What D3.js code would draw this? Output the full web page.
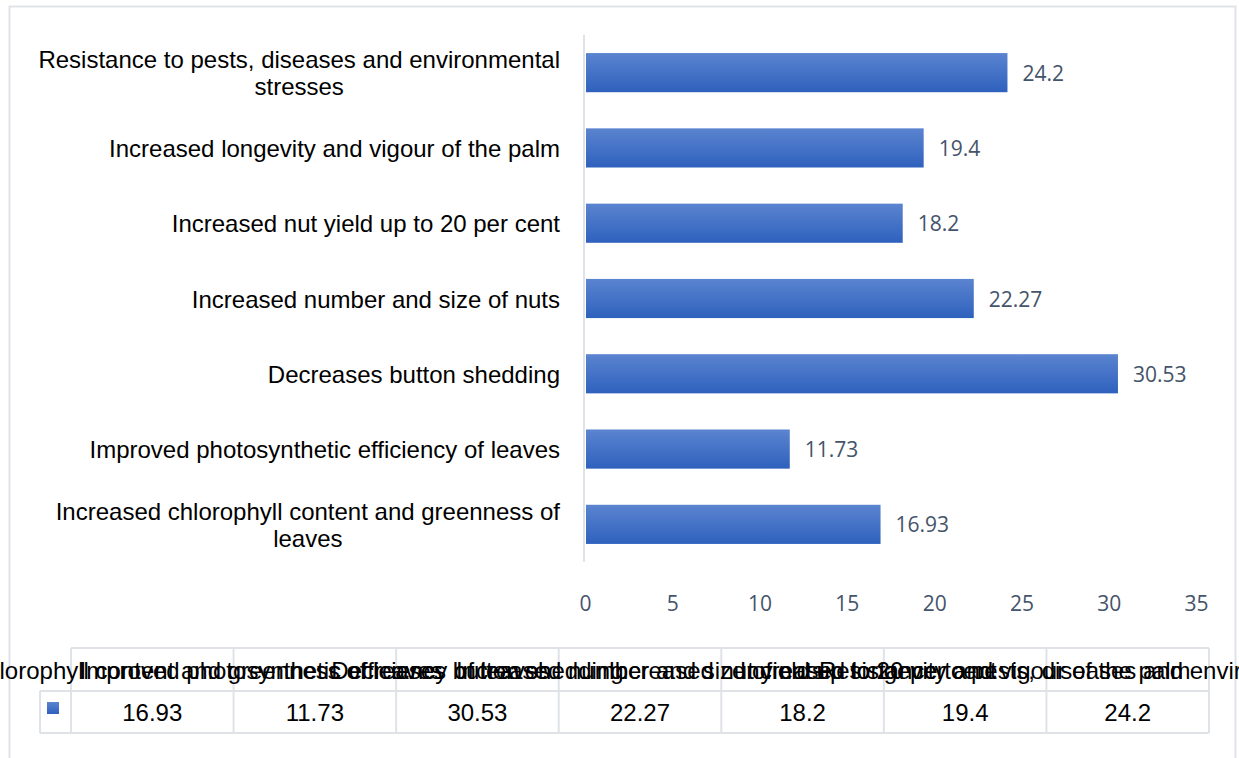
<!DOCTYPE html>
<meta charset="utf-8">
<script src="https://d3js.org/d3.v7.min.js"></script>
<style>
  body { margin: 0; background: #fff; }
</style>
<div id="my_dataviz"></div>
<script>

// data, in table order (bottom bar first)
var categories = [
  "Increased chlorophyll content and greenness of leaves",
  "Improved photosynthetic efficiency of leaves",
  "Decreases button shedding",
  "Increased number and size of nuts",
  "Increased nut yield up to 20 per cent",
  "Increased longevity and vigour of the palm",
  "Resistance to pests, diseases and environmental stresses"
];
var values = [16.93, 11.73, 30.53, 22.27, 18.2, 19.4, 24.2];
var valueLabels = ["16.93", "11.73", "30.53", "22.27", "18.2", "19.4", "24.2"];
var xTicks = [0, 5, 10, 15, 20, 25, 30, 35];

// wrapped label lines for the axis (as in the picture)
var labelLines = {
  "Increased chlorophyll content and greenness of leaves": ["Increased chlorophyll content and greenness of", "leaves"],
  "Resistance to pests, diseases and environmental stresses": ["Resistance to pests, diseases and environmental", "stresses"]
};

var W = 1239, H = 758;
var svg = d3.select("#my_dataviz")
  .append("svg")
    .attr("width", W)
    .attr("height", H);

// chart frame
svg.append("rect")
  .attr("x", 9.5).attr("y", 6.5)
  .attr("width", 1226).attr("height", 800)
  .attr("fill", "none")
  .attr("stroke", "#dfe3e8")
  .attr("stroke-width", 2);

// gradient for bars
var grad = svg.append("defs").append("linearGradient")
  .attr("id", "barGrad")
  .attr("x1", 0).attr("y1", 0).attr("x2", 0).attr("y2", 1);
grad.append("stop").attr("offset", "0%").attr("stop-color", "#5b84d0");
grad.append("stop").attr("offset", "100%").attr("stop-color", "#2e61bd");

// scales
var x = d3.scaleLinear()
  .domain([0, 35])
  .range([585, 1196]);

var y = d3.scaleBand()
  .domain(categories.slice().reverse())
  .range([35, 562])
  .paddingInner(0.48)
  .paddingOuter(0.24);

// vertical axis line
svg.append("line")
  .attr("x1", 584).attr("x2", 584)
  .attr("y1", 35).attr("y2", 562)
  .attr("stroke", "#dfe3e8")
  .attr("stroke-width", 2);

// bars
svg.append("g")
  .selectAll("rect")
  .data(categories)
  .enter()
  .append("rect")
    .attr("x", x(0) + 1)
    .attr("y", function (d) { return y(d); })
    .attr("width", function (d, i) { return x(values[i]) - x(0) - 1; })
    .attr("height", y.bandwidth())
    .attr("fill", "url(#barGrad)");

// value labels
svg.append("g")
  .selectAll("text")
  .data(categories)
  .enter()
  .append("text")
    .attr("x", function (d, i) { return x(values[i]) + 15; })
    .attr("y", function (d) { return y(d) + y.bandwidth() / 2 + 8; })
    .style("font-family", "'Open Sans', sans-serif")
    .style("font-size", "21px")
    .style("fill", "#44546a")
    .text(function (d, i) { return valueLabels[i]; });

// x axis tick labels
var xAxis = svg.append("g")
  .attr("transform", "translate(0,596)")
  .call(d3.axisBottom(x).tickValues(xTicks).tickSize(0).tickPadding(0));
xAxis.select(".domain").remove();
xAxis.selectAll("text")
  .attr("dy", "0.71em")
  .style("font-family", "'Open Sans', sans-serif")
  .style("font-size", "21px")
  .style("fill", "#44546a");

// category labels (right aligned block, centred lines)
var labelRight = 560;
var lab = svg.append("g")
  .selectAll("g")
  .data(categories)
  .enter()
  .append("g");
lab.each(function (d) {
  var g = d3.select(this);
  var lines = labelLines[d] || [d];
  var cy = y(d) + y.bandwidth() / 2;
  var lh = 27;
  var t = g.selectAll("text")
    .data(lines)
    .enter()
    .append("text")
      .attr("y", function (l, k) { return cy + (k - (lines.length - 1) / 2) * lh + 9; })
      .style("font-family", "'Liberation Sans', Arial, sans-serif")
      .style("font-size", "24px")
      .style("fill", "#000")
      .attr("text-anchor", "middle")
      .text(function (l) { return l; });
  var maxW = 0;
  t.each(function () { maxW = Math.max(maxW, this.getComputedTextLength()); });
  t.attr("x", labelRight - maxW / 2);
});

// data table
var colX = d3.scaleBand()
  .domain(categories)
  .range([71, 1209]);
var tTop = 648, tMid = 691, tBot = 733;
var tbl = svg.append("g");
var lineColor = "#dfe3e8";

// horizontal lines
tbl.append("line").attr("x1", 71).attr("x2", 1209).attr("y1", tTop).attr("y2", tTop);
tbl.append("line").attr("x1", 40).attr("x2", 1209).attr("y1", tMid).attr("y2", tMid);
tbl.append("line").attr("x1", 40).attr("x2", 1209).attr("y1", tBot).attr("y2", tBot);
// key column left edge
tbl.append("line").attr("x1", 40).attr("x2", 40).attr("y1", tMid).attr("y2", tBot);
// column lines
tbl.selectAll(".col")
  .data(categories.concat(["end"]))
  .enter()
  .append("line")
    .attr("x1", function (d, i) { return 71 + i * colX.step(); })
    .attr("x2", function (d, i) { return 71 + i * colX.step(); })
    .attr("y1", tTop).attr("y2", tBot);
tbl.selectAll("line")
  .attr("stroke", lineColor)
  .attr("stroke-width", 2);

// legend key
tbl.append("rect")
  .attr("x", 47).attr("y", 702)
  .attr("width", 12).attr("height", 12)
  .attr("fill", "url(#barGrad)");

// header texts (overflowing, as in the picture)
tbl.selectAll(".hdr")
  .data(categories)
  .enter()
  .append("text")
    .attr("x", function (d) { return colX(d) + colX.bandwidth() / 2; })
    .attr("y", 679)
    .attr("text-anchor", "middle")
    .style("font-family", "'Liberation Sans', Arial, sans-serif")
    .style("font-size", "24px")
    .style("fill", "#000")
    .text(function (d) { return d; });

// values row
tbl.selectAll(".val")
  .data(categories)
  .enter()
  .append("text")
    .attr("x", function (d) { return colX(d) + colX.bandwidth() / 2; })
    .attr("y", 721)
    .attr("text-anchor", "middle")
    .style("font-family", "'Liberation Sans', Arial, sans-serif")
    .style("font-size", "24px")
    .style("fill", "#000")
    .text(function (d, i) { return valueLabels[i]; });

</script>
